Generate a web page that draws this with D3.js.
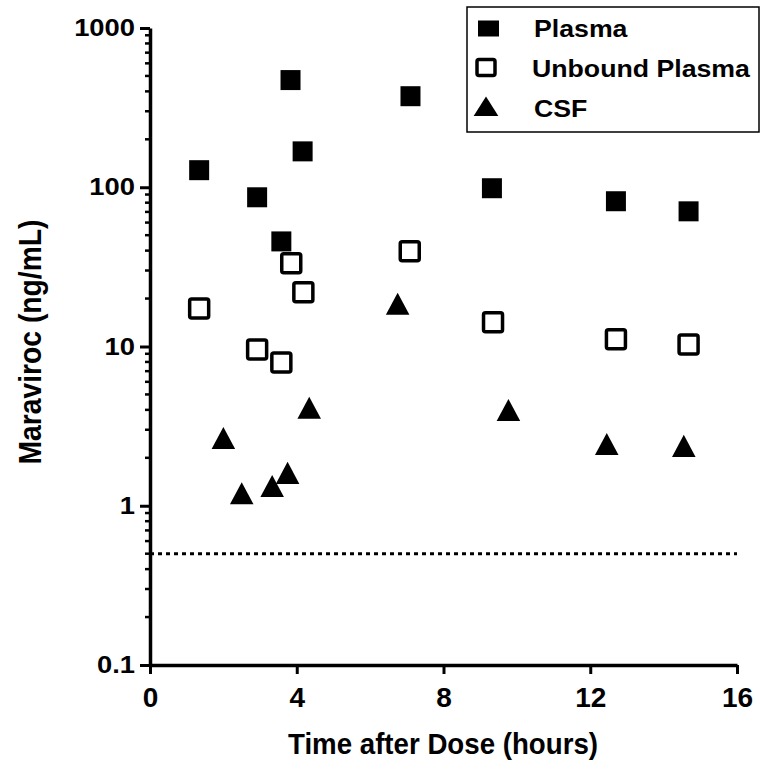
<!DOCTYPE html>
<html><head><meta charset="utf-8">
<script src="https://cdn.jsdelivr.net/npm/d3@7"></script>
<style>body{margin:0;background:#fff}svg{display:block}</style>
</head><body><div id="chart"></div>
<script>
const plasmaTime = [1.34, 2.92, 3.83, 4.16, 3.58, 7.1, 9.32, 12.7, 14.68];
const plasmaConc = [128, 86.5, 471, 168, 45.7, 373, 98.6, 81.7, 70.6];
const unboundTime = [1.34, 2.92, 3.58, 3.85, 4.18, 7.08, 9.35, 12.7, 14.68];
const unboundConc = [17.3, 9.57, 7.93, 33.3, 21.9, 39.6, 14.2, 11.1, 10.3];
const csfTime = [2.0, 2.5, 3.33, 3.75, 4.34, 6.75, 9.77, 12.45, 14.55];
const csfConc = [2.6, 1.17, 1.3, 1.57, 4.02, 18.1, 3.9, 2.38, 2.32];
const lloq = 0.5;
const xTicks = [0, 4, 8, 12, 16];
const yTicks = [0.1, 1, 10, 100, 1000];
const yTickLabels = ["0.1", "1", "10", "100", "1000"];
const seriesNames = ["Plasma", "Unbound Plasma", "CSF"];

const W = 760, H = 769;
const svg = d3.select("#chart").append("svg").attr("width", W).attr("height", H);
const x = d3.scaleLinear().domain([0, 16]).range([150, 737]);
const y = d3.scaleLog().domain([0.1, 1000]).range([665, 28]);
const font = "'Liberation Sans', Arial, sans-serif";

function stretch(sel, k) {
  sel.each(function() {
    const L = this.getComputedTextLength();
    d3.select(this).attr("textLength", L * k).attr("lengthAdjust", "spacingAndGlyphs");
  });
}

// minor ticks
const minor = [];
for (let e = -1; e < 3; e++) for (let k = 2; k <= 9; k++) minor.push(k * Math.pow(10, e));
svg.append("g").selectAll("line").data(minor).join("line")
  .attr("x1", 145).attr("x2", 150).attr("y1", d => y(d)).attr("y2", d => y(d))
  .attr("stroke", "#000").attr("stroke-width", 2.5);

// y axis
const yAxis = svg.append("g").attr("transform", "translate(150,0)")
  .call(d3.axisLeft(y).tickValues(yTicks).tickFormat((d, i) => yTickLabels[i]).tickSize(10).tickSizeOuter(0).tickPadding(5));
yAxis.select(".domain").attr("stroke-width", 3.5);
yAxis.selectAll(".tick line").attr("stroke-width", 3);
yAxis.selectAll("text").attr("font-family", font).attr("font-weight", "bold").attr("font-size", 24).attr("fill", "#000");
stretch(yAxis.selectAll("text"), 1.14);

// x axis
const xAxis = svg.append("g").attr("transform", "translate(0,665)")
  .call(d3.axisBottom(x).tickValues(xTicks).tickSize(9).tickSizeOuter(0).tickPadding(13));
xAxis.select(".domain").attr("stroke-width", 3.5);
xAxis.selectAll(".tick line").attr("stroke-width", 3);
xAxis.selectAll("text").attr("font-family", font).attr("font-weight", "bold").attr("font-size", 28).attr("fill", "#000");

// LLOQ dotted line
svg.append("line").attr("x1", x(0)).attr("x2", x(16)).attr("y1", y(lloq)).attr("y2", y(lloq))
  .attr("stroke", "#000").attr("stroke-width", 3).attr("stroke-dasharray", "4,4");

// markers
const sq = d3.symbol().type(d3.symbolSquare).size(400);
const tri = d3.symbol().type(d3.symbolTriangle).size(240);
const plasma = plasmaTime.map((t, i) => ({t, c: plasmaConc[i]}));
const unbound = unboundTime.map((t, i) => ({t, c: unboundConc[i]}));
const csf = csfTime.map((t, i) => ({t, c: csfConc[i]}));

svg.append("g").selectAll("path").data(plasma).join("path")
  .attr("d", sq).attr("transform", d => `translate(${x(d.t)},${y(d.c)})`).attr("fill", "#000");
svg.append("g").selectAll("rect").data(unbound).join("rect")
  .attr("x", d => x(d.t) - 9.5).attr("y", d => y(d.c) - 9.5).attr("width", 19).attr("height", 19).attr("rx", 2)
  .attr("fill", "#fff").attr("stroke", "#000").attr("stroke-width", 3.5);
svg.append("g").selectAll("path").data(csf).join("path")
  .attr("d", tri).attr("transform", d => `translate(${x(d.t)},${y(d.c) + 2}) scale(1,1.08)`).attr("fill", "#000");

// legend
const lg = svg.append("g");
lg.append("rect").attr("x", 467).attr("y", 7).attr("width", 292).attr("height", 125)
  .attr("fill", "#fff").attr("stroke", "#000").attr("stroke-width", 1.5);
const legY = [28.5, 67.5, 107.5];
lg.append("rect").attr("x", 478).attr("y", legY[0] - 8).attr("width", 21).attr("height", 16).attr("fill", "#000");
lg.append("rect").attr("x", 477).attr("y", legY[1] - 8).attr("width", 18).attr("height", 16).attr("rx", 2)
  .attr("fill", "#fff").attr("stroke", "#000").attr("stroke-width", 3.5);
lg.append("path").attr("d", d3.symbol().type(d3.symbolTriangle).size(200))
  .attr("transform", `translate(486,${legY[2] + 2}) scale(1.15,1.05)`).attr("fill", "#000");
const lt = lg.selectAll("text").data(seriesNames).join("text")
  .attr("x", (d, i) => i === 1 ? 532 : 534).attr("y", (d, i) => [37, 77, 117][i])
  .attr("font-family", font).attr("font-weight", "bold").attr("font-size", 23).text(d => d);
stretch(lt, 1.16);

// axis titles
const xt = svg.append("text").attr("x", 443).attr("y", 754).attr("text-anchor", "middle")
  .attr("font-family", font).attr("font-weight", "bold").attr("font-size", 30).text("Time after Dose (hours)");
xt.attr("textLength", 310).attr("lengthAdjust", "spacingAndGlyphs");
const yt = svg.append("text").attr("transform", "translate(41,342) rotate(-90)").attr("text-anchor", "middle")
  .attr("font-family", font).attr("font-weight", "bold").attr("font-size", 32).text("Maraviroc (ng/mL)");
yt.attr("textLength", 245).attr("lengthAdjust", "spacingAndGlyphs");
</script></body></html>
